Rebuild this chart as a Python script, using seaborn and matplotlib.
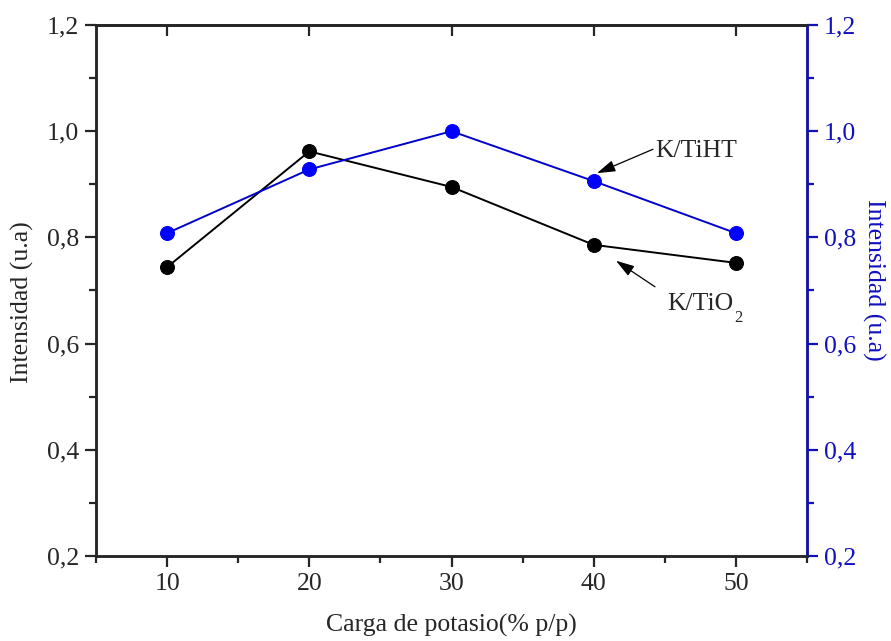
import matplotlib
matplotlib.use("Agg")
import matplotlib.pyplot as plt
import seaborn as sns
import numpy as np
from matplotlib.ticker import MultipleLocator, FuncFormatter

carga = [10, 20, 30, 40, 50]
k_tio2 = [0.744, 0.962, 0.895, 0.786, 0.752]
k_tiht = [0.808, 0.928, 1.000, 0.906, 0.808]

sns.set_style("ticks")
plt.rcParams['font.family'] = ['Liberation Serif', 'DejaVu Serif']

BLUE_MK = '#0000FF'
BLUE_AX = '#1010C0'
FS = 18.5

fig = plt.figure(figsize=(8.91, 6.41), dpi=100)
ax = fig.add_axes([96/891, 1-556/641, (807-96)/891, (556-25)/641])

sns.lineplot(x=carga, y=k_tio2, ax=ax, color='black', marker='o', markersize=10,
             markeredgecolor='black', linewidth=1.4)
ax2 = ax.twinx()
sns.lineplot(x=carga, y=k_tiht, ax=ax2, color='#0000CC', marker='o', markersize=10,
             markeredgecolor=BLUE_MK, markerfacecolor=BLUE_MK, linewidth=1.4)

comma = FuncFormatter(lambda v, p: f"{v:.1f}".replace('.', ','))
for a in (ax, ax2):
    a.set_xlim(5, 55)
    a.set_ylim(0.2, 1.2)
    a.yaxis.set_major_locator(MultipleLocator(0.2))
    a.yaxis.set_minor_locator(MultipleLocator(0.1))
    a.yaxis.set_major_formatter(comma)
    for s in a.spines.values():
        s.set_linewidth(1.8)

ax.xaxis.set_major_locator(MultipleLocator(10))
ax.xaxis.set_minor_locator(MultipleLocator(5))
ax.set_xticks([10, 20, 30, 40, 50])
ax.tick_params(axis='both', which='major', direction='out', length=8, width=1.6, labelsize=FS, pad=4)
ax.tick_params(axis='both', which='minor', direction='out', length=5, width=1.6)
ax.tick_params(axis='x', top=False)

top = ax.secondary_xaxis('top')
top.set_xticks([10, 20, 30, 40, 50])
top.tick_params(direction='in', length=8, width=1.6, labeltop=False)
top.spines['top'].set_linewidth(1.8)

ax2.spines['right'].set_color(BLUE_AX)
ax2.tick_params(axis='y', which='major', direction='out', length=8, width=1.6,
                colors=BLUE_AX, labelsize=FS, pad=4)
ax2.tick_params(axis='y', which='minor', direction='out', length=5, width=1.6, colors=BLUE_AX)

ax.set_xlabel("Carga de potasio(% p/p)", fontsize=FS, labelpad=14)
ax.set_ylabel("Intensidad (u.a)", fontsize=FS, va='center')
ax.yaxis.set_label_coords(-0.104, 0.478)
ax2.set_ylabel("Intensidad (u.a)", fontsize=FS, color=BLUE_AX, rotation=270, va='center')
ax2.yaxis.set_label_coords(1.093, 0.52)

arrow = dict(arrowstyle='-|>,head_length=0.7,head_width=0.22', color='black', lw=0.9,
             mutation_scale=16, shrinkA=0, shrinkB=0)
ax.text(44.31, 0.951, "K/TiHT", fontsize=FS, ha='left', va='baseline')
ax.annotate("", xy=(40.23, 0.921), xytext=(44.17, 0.966), arrowprops=arrow)
ax.text(45.15, 0.663, "K/TiO", fontsize=FS, ha='left', va='baseline')
ax.text(49.85, 0.641, "2", fontsize=12, ha='left', va='baseline')
ax.annotate("", xy=(41.57, 0.756), xytext=(44.31, 0.707), arrowprops=arrow)

fig.savefig("out.png", dpi=100)
